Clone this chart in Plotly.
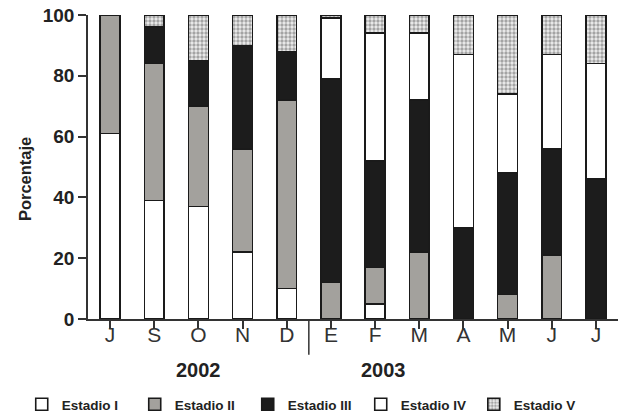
import plotly.graph_objects as go

months = ["J", "S", "O", "N", "D", "E", "F", "M", "A", "M", "J", "J"]
years = ["2002", "2003"]
estadio_I = [61, 39, 37, 22, 10, 0, 5, 0, 0, 0, 0, 0]
estadio_II = [39, 45, 33, 34, 62, 12, 12, 22, 0, 8, 21, 0]
estadio_III = [0, 12, 15, 34, 16, 67, 35, 50, 30, 40, 35, 46]
estadio_IV = [0, 0, 0, 0, 0, 20, 42, 22, 57, 26, 31, 38]
estadio_V = [0, 4, 15, 10, 12, 1, 6, 6, 13, 26, 13, 16]
series_names = ["Estadio I", "Estadio II", "Estadio III", "Estadio IV", "Estadio V"]
y_title = "Porcentaje"

x_idx = list(range(len(months)))
FONT = "Liberation Sans, Arial, sans-serif"
LEG_FONT = dict(size=13.5, family=FONT, color="#222222", weight="bold")

fig = go.Figure()
styles = [
    dict(color="white"),
    dict(color="#a3a19d"),
    dict(color="#1c1c1c"),
    dict(color="white"),
    dict(color="white", pattern=dict(shape=".", fgcolor="#5a5a5a", bgcolor="#eeeeee", size=4, solidity=0.55)),
]
legends = ["legend", "legend", "legend", "legend", "legend2"]
for name, vals, st, lg in zip(series_names, [estadio_I, estadio_II, estadio_III, estadio_IV, estadio_V], styles, legends):
    fig.add_trace(go.Bar(
        x=x_idx, y=vals, name=name, width=0.45, legend=lg,
        marker=dict(line=dict(color="#1a1a1a", width=1.6), **st),
    ))

fig.update_layout(
    barmode="stack",
    width=621, height=417,
    margin=dict(l=88, r=3, t=15, b=98, autoexpand=False),
    paper_bgcolor="white", plot_bgcolor="white",
    font=dict(family=FONT, color="#222222"),
    showlegend=True,
    legend=dict(orientation="h", xref="container", yref="container",
                x=0.035, xanchor="left", y=0.03, yanchor="middle",
                font=LEG_FONT, itemwidth=30, traceorder="normal", tracegroupgap=0,
                entrywidth=68, entrywidthmode="pixels"),
    legend2=dict(orientation="h", xref="container", yref="container",
                 x=0.763, xanchor="left", y=0.03, yanchor="middle",
                 font=LEG_FONT, itemwidth=30, traceorder="normal", tracegroupgap=0),
)
fig.update_xaxes(
    range=[-0.5, 11.5], tickmode="array", tickvals=x_idx, ticktext=months,
    tickson="boundaries", ticks="outside", ticklen=8, tickwidth=1.5, tickcolor="#333",
    showline=True, linecolor="#333", linewidth=1.5, showgrid=False, zeroline=False,
    tickfont=dict(size=21, color="#333333", family=FONT),
    ticklabelstandoff=-12, automargin=False,
)
fig.update_yaxes(
    range=[0, 100], tickvals=[0, 20, 40, 60, 80, 100],
    ticks="outside", ticklen=8, tickwidth=1.5, tickcolor="#333",
    showline=True, linecolor="#333", linewidth=1.5, showgrid=False, zeroline=False,
    tickfont=dict(size=19, color="#222222", family=FONT, weight="bold"),
    automargin=False,
)
fig.add_annotation(x=-0.119, y=0.46, xref="paper", yref="paper", text=y_title, showarrow=False,
                   textangle=-90, xanchor="center", yanchor="middle",
                   font=dict(size=16.5, family=FONT, color="#222222", weight="bold"))
fig.add_shape(type="line", xref="x", yref="paper", x0=4.5, x1=4.5, y0=0, y1=-0.118,
              line=dict(color="#333", width=1.5))
fig.add_annotation(x=2, y=-0.168, xref="x", yref="paper", text=years[0], showarrow=False,
                   font=dict(size=20, family=FONT, color="#222222", weight="bold"), yanchor="middle")
fig.add_annotation(x=6.2, y=-0.168, xref="x", yref="paper", text=years[1], showarrow=False,
                   font=dict(size=20, family=FONT, color="#222222", weight="bold"), yanchor="middle")

fig.write_html("out.html", config={"displayModeBar": False},
               post_script="document.body.style.margin='0px';document.body.style.overflow='hidden';")
